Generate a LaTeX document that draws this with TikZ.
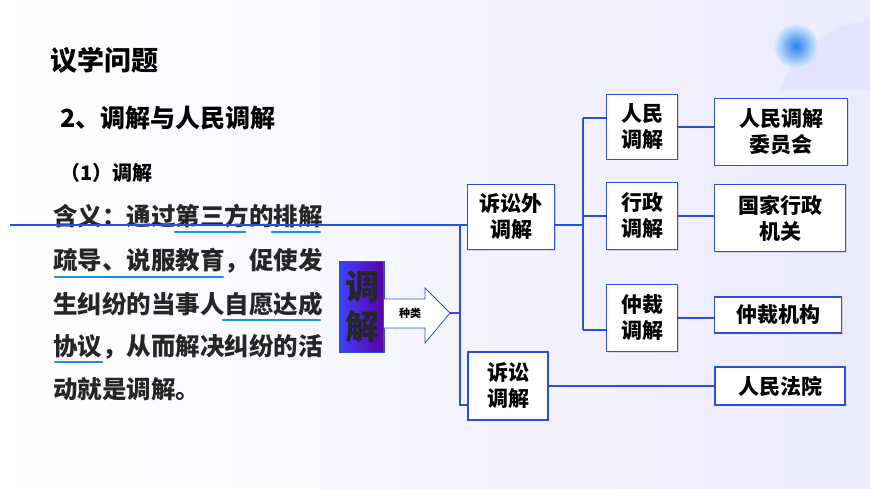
\documentclass[tikz,border=0pt]{standalone}
\usepackage{fontspec}
\setmainfont{Noto Sans CJK SC}
\newcommand\cjkb{\bfseries}
\usetikzlibrary{shadows}
\definecolor{bx}{HTML}{2B4FD6}
\definecolor{ul}{HTML}{1E90D8}
\begin{document}
\begin{tikzpicture}[x=1pt,y=-1pt,
  bbox/.style={draw=bx,line width=1.6pt,fill=white,align=center,font=\cjkb\fontsize{21}{26}\selectfont,inner sep=0pt,drop shadow={shadow xshift=1pt,shadow yshift=-1pt,opacity=0.25}},
  ln/.style={draw=bx,line width=1.3pt},
  uline/.style={draw=ul,line width=2.2pt,line cap=round},
  bt/.style={anchor=west,font=\cjkb\fontsize{24.5}{28}\selectfont,text=black!85,inner sep=0pt}]
\useasboundingbox (0,0) rectangle (870,489);
\shade[top color=white,bottom color=white,left color=white,right color=blue!8] (0,0) rectangle (870,489);
\fill[blue!12,opacity=0.6] (870,20) .. controls (820,25) and (790,60) .. (780,90) -- (870,90) -- cycle;
\shade[inner color={rgb,255:red,40;green,130;blue,240},outer color={rgb,255:red,220;green,235;blue,252}] (796,46) circle (22);
% titles
\node[anchor=west,font=\cjkb\fontsize{27}{30}\selectfont,inner sep=0pt] (t1) at (50,60) {议学问题};
\node[anchor=west,font=\cjkb\fontsize{25}{29}\selectfont,inner sep=0pt] (t2) at (60,118) {2、调解与人民调解};
\node[anchor=west,font=\cjkb\fontsize{20}{24}\selectfont,inner sep=0pt] (t3) at (60,173) {（1）调解};
% body
\node[bt] (l1) at (53,216) {含义：通过第三方的排解};
\node[bt] (l2) at (53,261) {疏导、说服教育，促使发};
\node[bt] (l3) at (53,304) {生纠纷的当事人自愿达成};
\node[bt] (l4) at (53,347) {协议，从而解决纠纷的活};
\node[bt] (l5) at (53,389) {动就是调解。};
\draw[uline] (175,232) -- (245,232); \draw[uline] (272,232) -- (320,232);
\draw[uline] (55,277) -- (223,277);
\draw[uline] (223,320) -- (320,320);
\draw[uline] (55,362) -- (102,362);
% main box
\node[draw=bx,line width=1.5pt,left color=blue!75!white,right color=violet!70!blue,minimum width=44,minimum height=91,inner sep=0pt,align=center,font=\cjkb\fontsize{34}{40}\selectfont,text=black!85] (tj) at (362,307) {调\\解};
\coordinate (tip) at (450,313);
\draw[draw=bx,line width=0.8pt,fill=white] (384,299) -- (425,299) -- (425,288) -- (tip) -- (425,343) -- (425,328) -- (384,328);
\node[font=\cjkb\fontsize{11}{13}\selectfont] (zl) at (410,313) {种类};
% level 2
\node[bbox,minimum width=87,minimum height=65] (ssw) at (511,217) {诉讼外\\调解};
\node[bbox,minimum width=80,minimum height=68] (ss) at (508,386) {诉讼\\调解};
% level 3
\node[bbox,minimum width=71,minimum height=65] (rm) at (642,127) {人民\\调解};
\node[bbox,minimum width=71,minimum height=67] (xz) at (642,216) {行政\\调解};
\node[bbox,minimum width=71,minimum height=67] (zc) at (642,318) {仲裁\\调解};
% level 4
\node[bbox,minimum width=133,minimum height=67] (rmw) at (781,132) {人民调解\\委员会};
\node[bbox,minimum width=131,minimum height=67] (gj) at (780,218) {国家行政\\机关};
\node[bbox,minimum width=127,minimum height=36] (zj) at (778,315) {仲裁机构};
\node[bbox,minimum width=130,minimum height=38] (fy) at (780,386) {人民法院};
% connectors
\coordinate (s0) at (10,225);
\coordinate (v1) at (460,225); \coordinate (v2) at (460,405);
\coordinate (w1) at (583,118); \coordinate (w2) at (583,330);
\draw[ln] (tip) -- (tip -| v1);
\draw[ln] (s0) -- (v1) -- (v1 -| ssw.west);
\draw[ln] (v1) -- (v2) -- (v2 -| ss.west);
\draw[ln] (ssw.east |- s0) -- (w1 |- s0);
\draw[ln] (w1) -- (w2);
\draw[ln] (w1) -- (w1 -| rm.west);
\draw[ln] (xz.west -| w1) -- (xz.west);
\draw[ln] (w2) -- (w2 -| zc.west);
\draw[ln] (rm.east) -- (rm.east -| rmw.west);
\draw[ln] (xz.east) -- (xz.east -| gj.west);
\draw[ln] (zc.east) -- (zc.east -| zj.west);
\draw[ln] (ss.east) -- (ss.east -| fy.west);
\end{tikzpicture}
\end{document}
